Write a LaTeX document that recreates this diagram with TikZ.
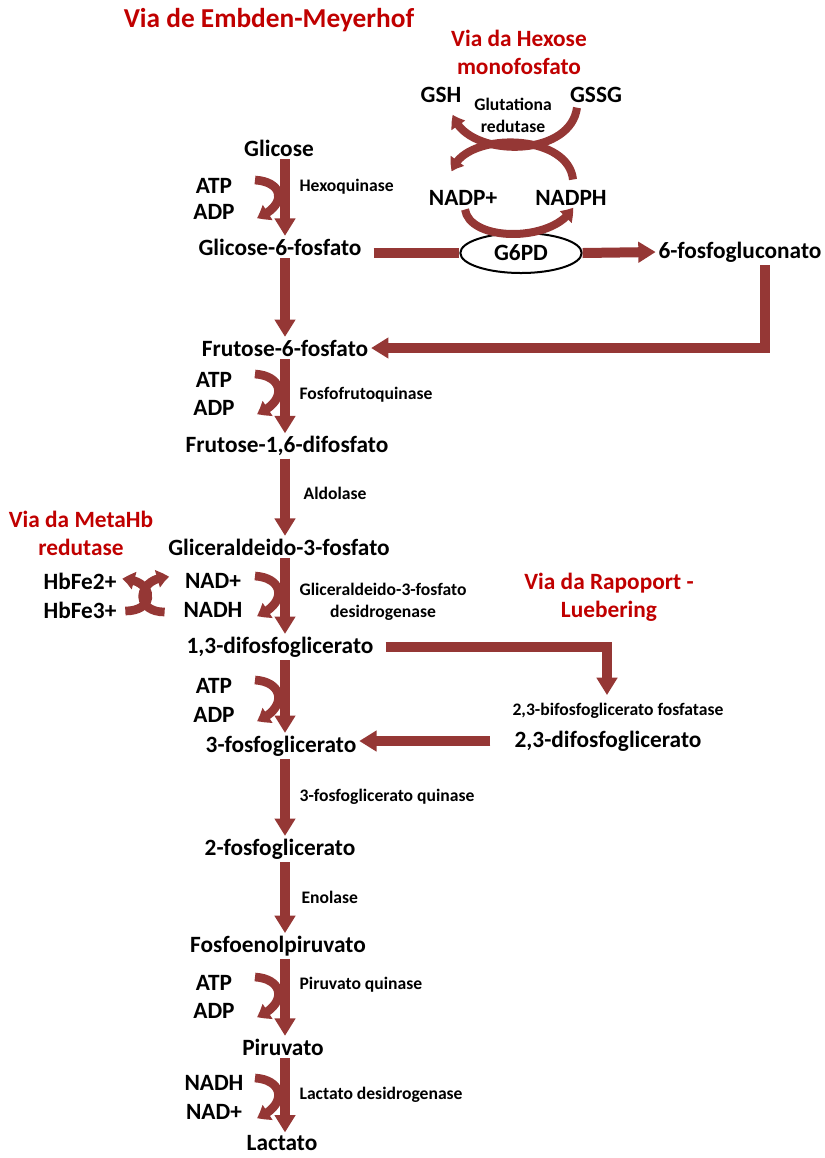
\documentclass[tikz,border=0pt]{standalone}
\usepackage{fontspec}
\setmainfont{Carlito}
\usetikzlibrary{arrows.meta,bending,calc,shapes.geometric,positioning}
\definecolor{pathred}{HTML}{953735}
\definecolor{titlered}{HTML}{C00000}

\begin{document}
\begin{tikzpicture}[
    x=0.75pt, y=-0.75pt,
    %
    met/.style={font=\fontsize{17.5}{19}\selectfont\bfseries, inner sep=2pt},
    enz/.style={font=\fontsize{13.2}{16.5}\selectfont\bfseries, anchor=west, align=center, inner sep=1pt},
    via/.style={font=\fontsize{17.5}{21}\selectfont\bfseries, text=titlered, align=center},
    %
    flow/.style={draw=pathred, line width=7.5pt, -{Triangle[width=15pt,length=13pt]}},
    bar/.style={draw=pathred, line width=7.5pt},
    side/.style={draw=pathred, line width=6.5pt, -{Triangle[width=13pt,length=9pt,bend]}},
    cross/.style={draw=pathred, line width=6pt, -{Triangle[width=12pt,length=9pt,bend]}}
    ]
    \useasboundingbox (0,0) rectangle (825,1158);
    \coordinate (ax) at (285,0);

    % titulos
    \node[via, font=\fontsize{20.5}{24}\selectfont\bfseries] (title) at (269,20) {Via de Embden-Meyerhof};
    \node[via] (hexose) at (519,52) {Via da Hexose\\monofosfato};
    \node[via] (metahb) at (81,533) {Via da MetaHb\\redutase};
    \node[via] (rapoport) at (609,597) {Via da Rapoport -\\Luebering};

    % via principal
    \node[met] (glc) at (279,148) {Glicose};
    \node[met] (g6p) at (280,247) {Glicose-6-fosfato};
    \node[met] (f6p) at (285,348) {Frutose-6-fosfato};
    \node[met] (f16) at (287,446) {Frutose-1,6-difosfato};
    \node[met] (g3p) at (279,547) {Gliceraldeido-3-fosfato};
    \node[met] (bpg) at (280,647) {1,3-difosfoglicerato};
    \node[met] (pg3) at (281,746) {3-fosfoglicerato};
    \node[met] (pg2) at (280,849) {2-fosfoglicerato};
    \node[met] (pep) at (278,946) {Fosfoenolpiruvato};
    \node[met] (pyr) at (283,1047) {Piruvato};
    \node[met] (lac) at (282,1143) {Lactato};

    % cofatores
    \node[met] (atp1) at (214,186) {ATP};
    \node[met] (adp1) at (214,212) {ADP};
    \node[met] (atp2) at (214,380) {ATP};
    \node[met] (adp2) at (214,408) {ADP};
    \node[met] (nad1) at (213,581) {NAD+};
    \node[met] (nadh1) at (213,610) {NADH};
    \node[met] (atp3) at (214,686) {ATP};
    \node[met] (adp3) at (214,715) {ADP};
    \node[met] (atp4) at (214,983) {ATP};
    \node[met] (adp4) at (214,1011) {ADP};
    \node[met] (nadh2) at (214,1083) {NADH};
    \node[met] (nad2) at (214,1112) {NAD+};
    \node[met] (hb2) at (80,581) {HbFe2+};
    \node[met] (hb3) at (80,610) {HbFe3+};

    % enzimas
    \node[enz] (hk) at (298,187) {Hexoquinase};
    \node[enz] (pfk) at (298,395) {Fosfofrutoquinase};
    \node[enz] (ald) at (302,493) {Aldolase};
    \node[enz] (gapdh) at (298,602) {Gliceraldeido-3-fosfato\\desidrogenase};
    \node[enz] (pgk) at (298,797) {3-fosfoglicerato quinase};
    \node[enz] (eno) at (300,897) {Enolase};
    \node[enz] (pk) at (298,985) {Piruvato quinase};
    \node[enz] (ldh) at (298,1095) {Lactato desidrogenase};

    % via das pentoses
    \node[met] (gsh) at (441,95) {GSH};
    \node[met] (gssg) at (596,95) {GSSG};
    \node[enz, anchor=center] (gr) at (513,115) {Glutationa\\redutase};
    \node[met] (nadp) at (463,198) {NADP+};
    \node[met] (nadph) at (571,198) {NADPH};
    \node[met] (pgl) at (740,252) {6-fosfogluconato};

    % Rapoport-Luebering
    \node[enz, anchor=center] (bpgase) at (618,711) {2,3-bifosfoglicerato fosfatase};
    \node[met] (dpg) at (608,741) {2,3-difosfoglicerato};

    % setas principais
    \draw[flow] (glc.south -| ax) -- (g6p.north -| ax);
    \draw[flow] (g6p.south -| ax) -- (f6p.north -| ax);
    \draw[flow] (f6p.south -| ax) -- (f16.north -| ax);
    \draw[flow] (f16.south -| ax) -- (g3p.north -| ax);
    \draw[flow] (g3p.south -| ax) -- (bpg.north -| ax);
    \draw[flow] (bpg.south -| ax) -- (pg3.north -| ax);
    \draw[flow] (pg3.south -| ax) -- (pg2.north -| ax);
    \draw[flow] (pg2.south -| ax) -- (pep.north -| ax);
    \draw[flow] (pep.south -| ax) -- (pyr.north -| ax);
    \draw[flow] (pyr.south -| ax) -- (lac.north -| ax);

    % cofatores curvos
    \draw[side] ($(atp1 -| ax)+(-30,-6)$) .. controls +(30,2) and +(30,-12) .. ($(adp1 -| ax)+(-28,6)$);
    \draw[side] ($(atp2 -| ax)+(-30,-6)$) .. controls +(30,2) and +(30,-12) .. ($(adp2 -| ax)+(-28,6)$);
    \draw[side] ($(nad1 -| ax)+(-30,-5)$) .. controls +(30,2) and +(30,-12) .. ($(nadh1 -| ax)+(-28,6)$);
    \draw[side] ($(atp3 -| ax)+(-30,-6)$) .. controls +(30,2) and +(30,-12) .. ($(adp3 -| ax)+(-28,6)$);
    \draw[side] ($(atp4 -| ax)+(-30,-6)$) .. controls +(30,2) and +(30,-12) .. ($(adp4 -| ax)+(-28,6)$);
    \draw[side] ($(nadh2 -| ax)+(-30,-5)$) .. controls +(30,2) and +(30,-12) .. ($(nad2 -| ax)+(-28,6)$);

    % MetaHb redutase
    \draw[side] ($(hb3.east)+(6,1)$) .. controls +(32,0) and +(32,0) .. ($(hb2.east)+(3,-2)$);
    \draw[side] ($(nadh1.west)+(-16,2)$) .. controls +(-32,0) and +(-32,0) .. ($(nad1.west)+(-13,-4)$);

    % glutationa redutase
    \draw[cross] ($(gssg.south)+(-19,2)$) .. controls +(-7,52) and +(12,43) .. ($(gsh.south)+(12,9)$);
    \draw[cross] ($(nadph.north)+(2,-8)$) .. controls +(-5,-48) and +(10,-40) .. ($(nadp.north)+(-11,-16)$);

    % G6PD
    \node[draw, ellipse, line width=1.5pt, fill=white, minimum width=91pt, minimum height=30pt,
          font=\fontsize{17.5}{19}\selectfont\bfseries] (g6pd) at (521,253) {G6PD};
    \draw[cross] ($(nadp.south)+(2,1)$) .. controls +(5,33) and +(-18,35) .. ($(nadph.south)+(2,-1)$);
    \draw[bar, shorten <=7pt] (g6p.east |- g6pd.west) -- (g6pd.west);
    \draw[flow] (g6pd.east) -- (pgl.west);
    \draw[flow] ($(pgl.south)+(25,0)$) |- (f6p.east);

    % desvio 2,3-BPG
    \draw[flow, shorten <=7pt, shorten >=5pt] (bpg.east) -| ($(bpgase.north)+(-11,0)$);
    \draw[flow, shorten <=16pt] (dpg.west) -- (dpg.west -| pg3.east);
\end{tikzpicture}
\end{document}
